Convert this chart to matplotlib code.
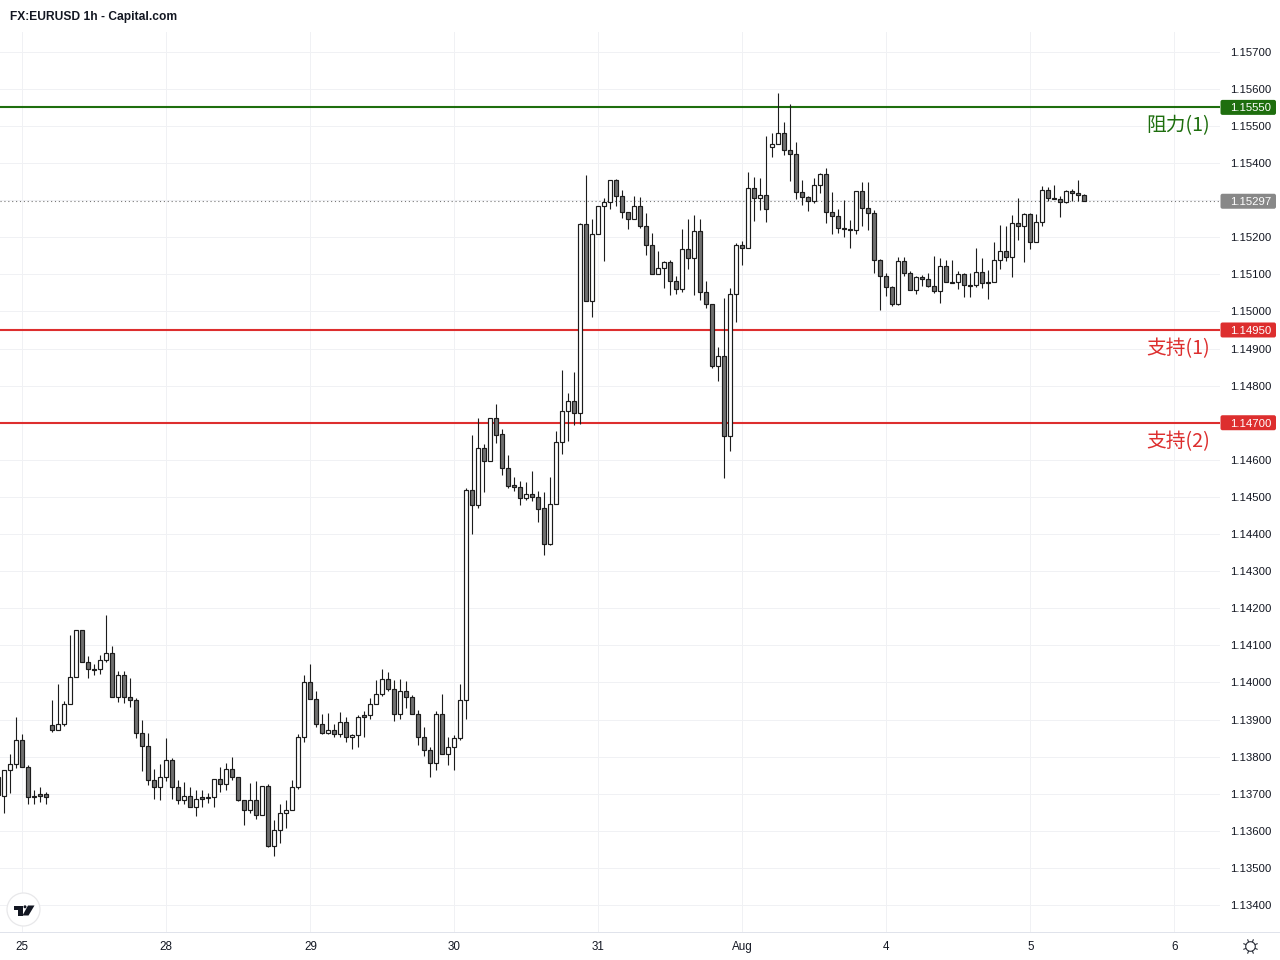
#!/usr/bin/env python3
"""FX:EURUSD 1h candles with support and resistance levels"""

import numpy as np
import matplotlib
matplotlib.use('Agg')
import matplotlib.pyplot as plt
from matplotlib.lines import Line2D
from matplotlib.patches import Circle, FancyBboxPatch, Polygon
from matplotlib.transforms import IdentityTransform

# hourly candles, first one is cut by the left edge
opens = [
    1.13696, 1.13694, 1.13763, 1.13779, 1.13844, 1.13773, 1.13695, 1.13698, 1.13698, 1.13884,
    1.13873, 1.13889, 1.13943, 1.14014, 1.14141, 1.14054, 1.14035, 1.14035, 1.14060, 1.14079,
    1.13960, 1.14019, 1.13962, 1.13952, 1.13863, 1.13830, 1.13738, 1.13719, 1.13746, 1.13792,
    1.13719, 1.13682, 1.13695, 1.13665, 1.13690, 1.13689, 1.13690, 1.13741, 1.13727, 1.13768,
    1.13744, 1.13684, 1.13655, 1.13682, 1.13644, 1.13722, 1.13559, 1.13603, 1.13649, 1.13655,
    1.13719, 1.13854, 1.14000, 1.13954, 1.13889, 1.13865, 1.13871, 1.13860, 1.13892, 1.13852,
    1.13857, 1.13911, 1.13911, 1.13943, 1.13968, 1.14008, 1.13981, 1.13916, 1.13976, 1.13962,
    1.13916, 1.13852, 1.13819, 1.13782, 1.13914, 1.13806, 1.13825, 1.13849, 1.13952, 1.14520,
    1.14479, 1.14631, 1.14597, 1.14712, 1.14669, 1.14579, 1.14531, 1.14528, 1.14498, 1.14509,
    1.14501, 1.14469, 1.14373, 1.14482, 1.14647, 1.14731, 1.14758, 1.14725, 1.15235, 1.15027,
    1.15208, 1.15284, 1.15295, 1.15354, 1.15311, 1.15267, 1.15249, 1.15284, 1.15230, 1.15178,
    1.15100, 1.15116, 1.15133, 1.15081, 1.15061, 1.15168, 1.15143, 1.15216, 1.15052, 1.15019,
    1.14852, 1.14881, 1.14665, 1.15046, 1.15178, 1.15170, 1.15333, 1.15306, 1.15314, 1.15443,
    1.15451, 1.15481, 1.15435, 1.15424, 1.15322, 1.15308, 1.15298, 1.15341, 1.15370, 1.15268,
    1.15257, 1.15225, 1.15222, 1.15219, 1.15325, 1.15279, 1.15265, 1.15138, 1.15095, 1.15065,
    1.15019, 1.15135, 1.15103, 1.15057, 1.15092, 1.15087, 1.15068, 1.15054, 1.15122, 1.15078,
    1.15078, 1.15100, 1.15070, 1.15070, 1.15105, 1.15078, 1.15078, 1.15138, 1.15162, 1.15146,
    1.15238, 1.15230, 1.15262, 1.15186, 1.15240, 1.15327, 1.15305, 1.15303, 1.15295, 1.15324,
    1.15319, 1.15313,
]
highs = [
    1.13754, 1.13765, 1.13807, 1.13906, 1.13862, 1.13777, 1.13709, 1.13719, 1.13706, 1.13952,
    1.13997, 1.13949, 1.14128, 1.14141, 1.14141, 1.14071, 1.14050, 1.14073, 1.14182, 1.14097,
    1.14031, 1.14031, 1.14012, 1.13957, 1.13900, 1.13863, 1.13766, 1.13780, 1.13849, 1.13795,
    1.13736, 1.13731, 1.13719, 1.13711, 1.13709, 1.13701, 1.13741, 1.13771, 1.13784, 1.13799,
    1.13744, 1.13684, 1.13728, 1.13733, 1.13722, 1.13727, 1.13628, 1.13673, 1.13682, 1.13736,
    1.13860, 1.14019, 1.14051, 1.13976, 1.13914, 1.13917, 1.13887, 1.13919, 1.13908, 1.13860,
    1.13911, 1.13922, 1.13957, 1.14006, 1.14035, 1.14027, 1.14006, 1.14008, 1.14003, 1.13965,
    1.13927, 1.13881, 1.13827, 1.13922, 1.13968, 1.13852, 1.13857, 1.13995, 1.14523, 1.14667,
    1.14712, 1.14642, 1.14714, 1.14750, 1.14682, 1.14612, 1.14553, 1.14542, 1.14539, 1.14569,
    1.14515, 1.14512, 1.14555, 1.14677, 1.14841, 1.14779, 1.14836, 1.15238, 1.15367, 1.15249,
    1.15284, 1.15305, 1.15354, 1.15357, 1.15327, 1.15267, 1.15311, 1.15308, 1.15265, 1.15211,
    1.15162, 1.15135, 1.15138, 1.15095, 1.15222, 1.15249, 1.15259, 1.15249, 1.15081, 1.15019,
    1.14905, 1.15035, 1.15062, 1.15184, 1.15189, 1.15376, 1.15362, 1.15360, 1.15473, 1.15481,
    1.15589, 1.15511, 1.15559, 1.15457, 1.15354, 1.15311, 1.15360, 1.15373, 1.15387, 1.15322,
    1.15276, 1.15300, 1.15246, 1.15325, 1.15349, 1.15349, 1.15273, 1.15141, 1.15103, 1.15068,
    1.15146, 1.15146, 1.15108, 1.15095, 1.15097, 1.15103, 1.15149, 1.15143, 1.15138, 1.15138,
    1.15108, 1.15103, 1.15103, 1.15170, 1.15143, 1.15111, 1.15186, 1.15232, 1.15230, 1.15259,
    1.15305, 1.15265, 1.15265, 1.15262, 1.15338, 1.15335, 1.15340, 1.15311, 1.15327, 1.15330,
    1.15354, 1.15316,
]
lows = [
    1.13660, 1.13648, 1.13702, 1.13770, 1.13773, 1.13673, 1.13673, 1.13678, 1.13673, 1.13866,
    1.13873, 1.13883, 1.13943, 1.14014, 1.14054, 1.14012, 1.14020, 1.14023, 1.14055, 1.13960,
    1.13948, 1.13945, 1.13934, 1.13851, 1.13761, 1.13723, 1.13685, 1.13683, 1.13734, 1.13685,
    1.13673, 1.13673, 1.13665, 1.13640, 1.13664, 1.13675, 1.13664, 1.13704, 1.13709, 1.13737,
    1.13680, 1.13616, 1.13648, 1.13632, 1.13644, 1.13556, 1.13532, 1.13567, 1.13607, 1.13655,
    1.13713, 1.13840, 1.13954, 1.13880, 1.13862, 1.13862, 1.13854, 1.13854, 1.13840, 1.13821,
    1.13827, 1.13854, 1.13902, 1.13943, 1.13964, 1.13976, 1.13897, 1.13902, 1.13932, 1.13916,
    1.13832, 1.13802, 1.13745, 1.13764, 1.13806, 1.13778, 1.13764, 1.13846, 1.13902, 1.14400,
    1.14471, 1.14514, 1.14597, 1.14645, 1.14560, 1.14525, 1.14517, 1.14478, 1.14492, 1.14489,
    1.14432, 1.14344, 1.14371, 1.14482, 1.14616, 1.14651, 1.14695, 1.14697, 1.15027, 1.14986,
    1.15208, 1.15137, 1.15275, 1.15284, 1.15253, 1.15221, 1.15249, 1.15224, 1.15152, 1.15100,
    1.15100, 1.15064, 1.15043, 1.15048, 1.15053, 1.15115, 1.15043, 1.15032, 1.15010, 1.14848,
    1.14813, 1.14551, 1.14624, 1.14972, 1.15124, 1.15170, 1.15244, 1.15273, 1.15241, 1.15415,
    1.15451, 1.15422, 1.15351, 1.15303, 1.15287, 1.15271, 1.15292, 1.15319, 1.15238, 1.15208,
    1.15211, 1.15200, 1.15171, 1.15208, 1.15230, 1.15219, 1.15103, 1.15004, 1.15042, 1.15014,
    1.15016, 1.15095, 1.15057, 1.15047, 1.15068, 1.15065, 1.15049, 1.15022, 1.15078, 1.15076,
    1.15060, 1.15038, 1.15038, 1.15065, 1.15062, 1.15033, 1.15078, 1.15115, 1.15135, 1.15094,
    1.15192, 1.15134, 1.15168, 1.15186, 1.15230, 1.15297, 1.15303, 1.15254, 1.15292, 1.15297,
    1.15297, 1.15297,
]
closes = [
    1.13746, 1.13763, 1.13779, 1.13844, 1.13773, 1.13692, 1.13692, 1.13695, 1.13690, 1.13873,
    1.13889, 1.13943, 1.14014, 1.14141, 1.14054, 1.14035, 1.14034, 1.14060, 1.14079, 1.13960,
    1.14019, 1.13962, 1.13952, 1.13863, 1.13830, 1.13738, 1.13719, 1.13746, 1.13792, 1.13719,
    1.13682, 1.13695, 1.13665, 1.13687, 1.13687, 1.13690, 1.13741, 1.13727, 1.13768, 1.13744,
    1.13684, 1.13655, 1.13682, 1.13644, 1.13722, 1.13559, 1.13603, 1.13649, 1.13655, 1.13719,
    1.13854, 1.14000, 1.13954, 1.13889, 1.13865, 1.13871, 1.13860, 1.13892, 1.13852, 1.13857,
    1.13908, 1.13908, 1.13943, 1.13968, 1.14008, 1.13981, 1.13916, 1.13976, 1.13962, 1.13916,
    1.13852, 1.13819, 1.13782, 1.13914, 1.13806, 1.13825, 1.13849, 1.13952, 1.14520, 1.14479,
    1.14631, 1.14597, 1.14712, 1.14668, 1.14579, 1.14530, 1.14528, 1.14498, 1.14509, 1.14501,
    1.14468, 1.14373, 1.14482, 1.14647, 1.14731, 1.14758, 1.14725, 1.15235, 1.15027, 1.15208,
    1.15284, 1.15295, 1.15354, 1.15311, 1.15267, 1.15249, 1.15284, 1.15230, 1.15178, 1.15100,
    1.15116, 1.15133, 1.15081, 1.15061, 1.15168, 1.15143, 1.15216, 1.15052, 1.15019, 1.14852,
    1.14881, 1.14665, 1.15046, 1.15178, 1.15170, 1.15332, 1.15306, 1.15314, 1.15276, 1.15451,
    1.15481, 1.15435, 1.15424, 1.15322, 1.15308, 1.15298, 1.15341, 1.15370, 1.15268, 1.15257,
    1.15225, 1.15222, 1.15219, 1.15325, 1.15279, 1.15265, 1.15138, 1.15095, 1.15065, 1.15019,
    1.15135, 1.15103, 1.15057, 1.15092, 1.15087, 1.15068, 1.15054, 1.15122, 1.15078, 1.15077,
    1.15100, 1.15070, 1.15069, 1.15105, 1.15076, 1.15076, 1.15138, 1.15162, 1.15146, 1.15238,
    1.15230, 1.15262, 1.15186, 1.15240, 1.15327, 1.15305, 1.15303, 1.15295, 1.15324, 1.15319,
    1.15313, 1.15297,
]

# date labels and the candle they sit under
date_labels = ['25', '28', '29', '30', '31', 'Aug', '4', '5', '6']
date_positions = [4, 28, 52, 76, 100, 124, 148, 172, 196]
price_ticks = [1.134 + 0.001 * i for i in range(24)]

# levels: price, colour, side label, side label y pixel
level_prices = [1.1555, 1.1495, 1.1470]
level_colors = ['#1e6e0e', '#dd2e2e', '#dd2e2e']
level_names = ['阻力(1)', '支持(1)', '支持(2)']
level_label_y = [123, 346.5, 439.5]
last_price = 1.15297

W, H = 1280, 960
TOP, BOTTOM, RIGHT = 32, 932, 1220
AXIS_LINE = '#e0e3eb'
GRID = '#f0f1f4'
TEXT = '#131722'
UI_FONT = 'Liberation Sans'

fig = plt.figure(figsize=(W / 100, H / 100), dpi=100, facecolor='white')
ax = fig.add_axes([0, 1 - BOTTOM / H, RIGHT / W, (BOTTOM - TOP) / H])
ax.set_xlim((0 + 1.67) / 6, (RIGHT + 1.67) / 6)
ax.set_ylim(1.133273, 1.157532)

# Grid
ax.set_axisbelow(True)
ax.grid(True, color=GRID, linewidth=0.72)
for name in ['top', 'left', 'right']:
    ax.spines[name].set_visible(False)
ax.spines['bottom'].set_color(AXIS_LINE)
ax.spines['bottom'].set_linewidth(0.72)

ax.set_xticks(date_positions)
ax.set_xticklabels(date_labels, fontsize=8.4, family=UI_FONT, color=TEXT)
ax.yaxis.tick_right()
ax.set_yticks(price_ticks)
ax.set_yticklabels([f'{p:.5f}' for p in price_ticks], fontsize=8.2, family=UI_FONT, color=TEXT)
ax.tick_params(axis='x', length=0, pad=6.5)
ax.tick_params(axis='y', length=0, pad=7.5)

# Levels sit under the candles
for price, color in zip(level_prices, level_colors):
    ax.axhline(price, color=color, linewidth=1.5, zorder=1.5)
ax.axhline(last_price, color='#777777', linewidth=0.8, linestyle=(0, (1, 2.5)), zorder=1.5)

# Candles
x = np.arange(len(opens))
o, h, l, c = map(np.array, (opens, highs, lows, closes))
up = c >= o
ax.vlines(x, l, h, color='#1c1c1c', linewidth=0.8, zorder=2)
ax.bar(x, np.maximum(np.abs(c - o), 1e-6), bottom=np.minimum(o, c), width=0.7,
       color=np.where(up, 'white', '#707070'), edgecolor='#1c1c1c', linewidth=0.85, zorder=3)


def price_y(price):
    return ax.transData.transform((0, price))[1]


def tag(price, color, text):
    y = price_y(price)
    fig.add_artist(FancyBboxPatch((RIGHT + 0.5, y - 7.5), 55.5, 15, boxstyle='round,pad=0,rounding_size=2',
                                  facecolor=color, edgecolor='none', transform=IdentityTransform()))
    fig.text((RIGHT + 31) / W, y / H, text, color='white', fontsize=8.2, family=UI_FONT,
             ha='center', va='center_baseline')


for price, color in zip(level_prices, level_colors):
    tag(price, color, f'{price:.5f}')
tag(last_price, '#888888', f'{last_price:.5f}')

for name, color, ypx in zip(level_names, level_colors, level_label_y):
    fig.text(1210 / W, 1 - ypx / H, name, color=color, fontsize=14.2,
             family=['Noto Sans CJK SC', 'DejaVu Sans'], ha='right', va='center_baseline')

# Header
fig.text(10 / W, 1 - 15.5 / H, 'FX:EURUSD 1h - Capital.com', fontsize=8.65, family=UI_FONT,
         weight='bold', color=TEXT, va='center_baseline')

# Rest of the time axis line, under the price scale
fig.add_artist(Line2D([(RIGHT + 1) / W, 1], [1 - BOTTOM / H] * 2, color=AXIS_LINE, linewidth=0.72))


# Logo badge, pixel coordinates from the top left
def top_px(points):
    return [(px, H - py) for px, py in points]


fig.add_artist(Circle((23.5, H - 909.5), 16.5, facecolor='white', edgecolor='#e8e8ea', linewidth=0.9,
                      transform=IdentityTransform(), zorder=5))
logo = [
    [(13.5, 905.5), (22.5, 905.5), (22.5, 915.5), (17.5, 915.5), (17.5, 909.5), (13.5, 909.5)],
    [(28, 905.5), (34.5, 905.5), (28.5, 915.5), (22.5, 915.5)],
]
for shape in logo:
    fig.add_artist(Polygon(top_px(shape), closed=True, facecolor='#131722', edgecolor='none',
                           transform=IdentityTransform(), zorder=6))
fig.add_artist(Circle((25, H - 906.8), 1.5, facecolor='#131722', edgecolor='none',
                      transform=IdentityTransform(), zorder=6))

# Settings icon
cx, cy = 1250.5, H - 946.5
fig.add_artist(Circle((cx, cy), 4.8, facecolor='white', edgecolor='#2a2e39', linewidth=0.8,
                      transform=IdentityTransform()))
for a in np.arange(0, 2 * np.pi, np.pi / 4) + np.pi / 8:
    fig.add_artist(Line2D([cx + 5.3 * np.cos(a), cx + 7.2 * np.cos(a)],
                          [cy + 5.3 * np.sin(a), cy + 7.2 * np.sin(a)],
                          color='#2a2e39', linewidth=0.8, transform=IdentityTransform()))

plt.savefig('out.png', dpi=100)
plt.close()
